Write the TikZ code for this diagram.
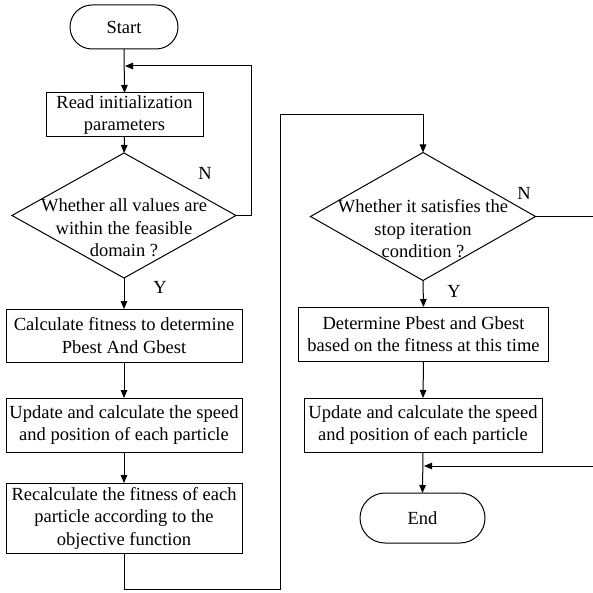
\documentclass[tikz,border=0pt]{standalone}
\usepackage{fontspec}
\setmainfont{Liberation Serif}
\usetikzlibrary{shapes.geometric,shapes.misc,arrows.meta}
\begin{document}
\begin{tikzpicture}[x=1pt,y=-1pt,
  every node/.style={font=\fontsize{18.5}{22.5}\selectfont},
  ln/.style={line width=1pt},
  arr/.style={ln,-{Triangle[length=8pt,width=6.5pt]}},
  proc/.style 2 args={draw,ln,align=center,inner sep=0pt,outer sep=0pt,minimum width=#1,minimum height=#2},
  term/.style 2 args={draw,ln,rounded rectangle,inner sep=0pt,outer sep=0pt,minimum width=#1,minimum height=#2},
  dia/.style 2 args={draw,ln,diamond,inner sep=0pt,outer sep=0pt,minimum width=#1,minimum height=#2},
  txt/.style={align=center,inner sep=0pt},
  lbl/.style={inner sep=0pt}
]
\useasboundingbox (0,0) rectangle (593,593);
% left column
\node[term={108pt}{44pt}] (start) at (124,27) {Start};
\node[proc={157pt}{44pt}] (read) at (124.5,115) {Read initialization\\parameters};
\node[dia={224pt}{125pt}] (d1) at (124,215.5) {};
\node[txt] (d1t) at (124,228) {Whether all values are\\within the feasible\\domain ?};
\node[proc={236pt}{53pt}] (calc) at (124,335.5) {Calculate fitness to determine\\Pbest And Gbest};
\node[proc={236pt}{54pt}] (upd1) at (124,425) {Update and calculate the speed\\and position of each particle};
\node[proc={236pt}{70pt}] (recalc) at (124,518) {Recalculate the fitness of each\\particle according to the\\objective function};
% right column
\node[dia={225pt}{128pt}] (d2) at (423,216.5) {};
\node[txt] (d2t) at (423,229) {Whether it satisfies the\\stop iteration\\condition ?};
\node[proc={250pt}{54pt}] (det) at (423.5,334) {Determine Pbest and Gbest\\based on the fitness at this time};
\node[proc={238pt}{54pt}] (upd2) at (423,425) {Update and calculate the speed\\and position of each particle};
\node[term={125pt}{50pt}] (end) at (422.5,518) {End};
% labels
\node[lbl] (n1) at (205,173) {N};
\node[lbl] (y1) at (160,287) {Y};
\node[lbl] (n2) at (524,193) {N};
\node[lbl] (y2) at (454,291) {Y};
% coordinates
\coordinate (lp) at (251,66);
\coordinate (lj) at (125,66);
\coordinate (b2) at (280,589);
\coordinate (b4) at (423,115);
\coordinate (e1) at (593,216.5);
\coordinate (e2) at (593,466);
\coordinate (e3) at (424,466);
% connectors
\draw[arr] (start.south) -- (read.north);
\draw[arr] (read.south) -- (d1.north);
\draw[arr] (d1.east) -| (lp) -- (lj);
\draw[arr] (d1.south) -- (calc.north);
\draw[arr] (calc.south) -- (upd1.north);
\draw[arr] (upd1.south) -- (recalc.north);
\draw[arr] (recalc.south) |- (b2) |- (b4) -- (d2.north);
\draw[ln] (d2.east) -- (e1);
\draw[arr] (d2.south) -- (det.north);
\draw[arr] (det.south) -- (upd2.north);
\draw[arr] (upd2.south) -- (end.north);
\draw[arr] (e2) -- (e3);
\end{tikzpicture}
\end{document}
